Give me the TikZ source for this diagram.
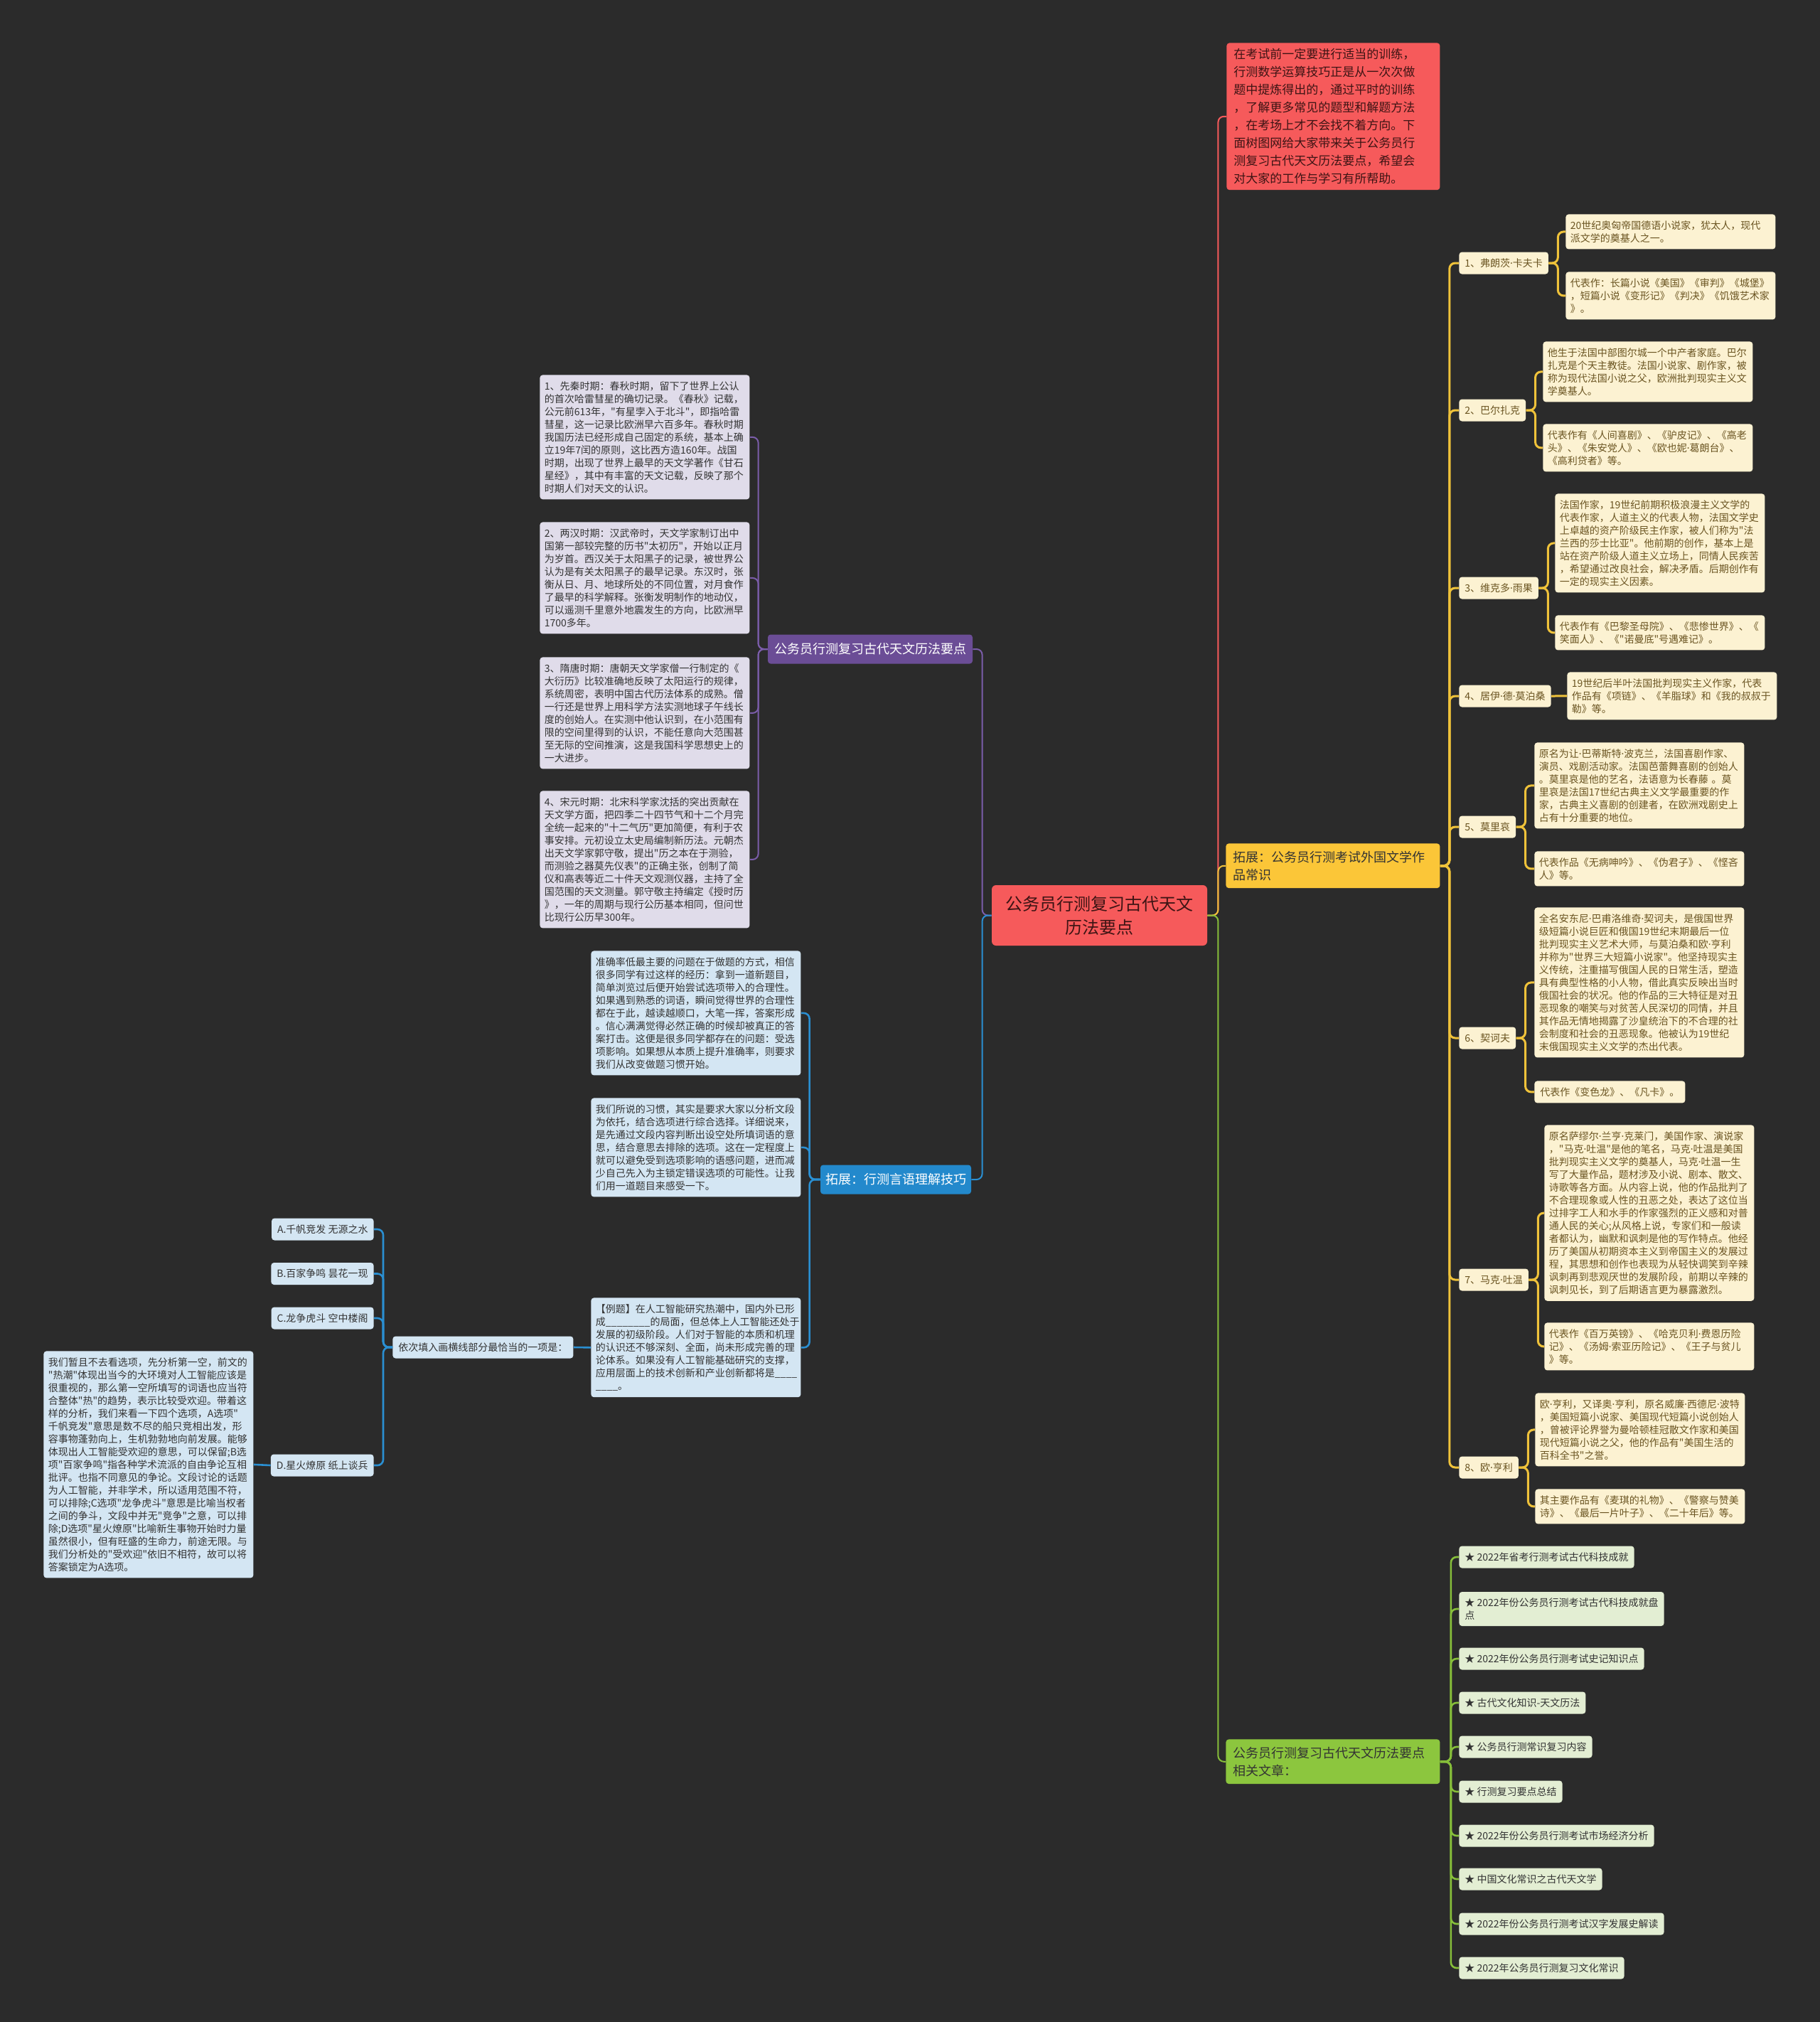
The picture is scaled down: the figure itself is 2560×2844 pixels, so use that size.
\documentclass[tikz,border=0pt]{standalone}
\usepackage{fontspec}
\newfontfamily\cjk{Noto Sans CJK SC}
\newfontfamily\latinf{Noto Sans}
\newcommand{\md}{{\latinf\symbol{"00B7}}}
\usetikzlibrary{positioning}
\definecolor{bgc}{HTML}{2B2B2B}
\definecolor{redc}{HTML}{F65A5B}
\definecolor{redtxt}{HTML}{3D1414}
\definecolor{purplec}{HTML}{6B4D96}
\definecolor{purplelt}{HTML}{E0DCEA}
\definecolor{purpleln}{HTML}{7B5DAA}
\definecolor{bluec}{HTML}{2389CC}
\definecolor{bluelt}{HTML}{D4E6F3}
\definecolor{blueln}{HTML}{2A8FD2}
\definecolor{yellowc}{HTML}{FBC638}
\definecolor{creamc}{HTML}{FCF2D2}
\definecolor{creamtxt}{HTML}{6A5421}
\definecolor{yellowln}{HTML}{EFC23A}
\definecolor{greenc}{HTML}{8CC63E}
\definecolor{greenlt}{HTML}{E3EED3}
\definecolor{greenln}{HTML}{86BE3A}
\definecolor{txt}{HTML}{333333}

\begin{document}
\begin{tikzpicture}[x=0.5pt, y=-0.5pt,
  rootnode/.style={rectangle, fill=redc, text=redtxt, rounded corners=3pt, align=center, minimum width=151.5pt, minimum height=42.5pt, font=\cjk\fontsize{12}{16.5}\selectfont},
  introbox/.style={rectangle, fill=redc, text=redtxt, rounded corners=2pt, align=left, text width=140pt, inner xsep=5pt, inner ysep=4pt, anchor=north west, font=\cjk\fontsize{8.5}{12.5}\selectfont},
  mainbox/.style={rectangle, rounded corners=2pt, align=center, minimum height=20.5pt, font=\cjk\fontsize{9}{12.5}\selectfont},
  widebox/.style={rectangle, rounded corners=2pt, align=left, text width=140pt, inner xsep=5.25pt, inner ysep=5.25pt, anchor=north west, font=\cjk\fontsize{9}{12.5}\selectfont},
  item/.style={rectangle, rounded corners=2pt, align=left, text width=141pt, inner xsep=3.25pt, inner ysep=4.5pt, anchor=north west, font=\cjk\fontsize{7}{9}\selectfont},
  tag/.style={rectangle, rounded corners=2pt, align=left, inner xsep=4pt, inner ysep=4.25pt, minimum height=15.5pt, font=\cjk\fontsize{7}{9}\selectfont},
  purpleitem/.style={item, fill=purplelt, text=txt},
  blueitem/.style={item, fill=bluelt, text=txt},
  bluetag/.style={tag, fill=bluelt, text=txt},
  creamitem/.style={item, fill=creamc, text=creamtxt},
  creamtag/.style={tag, fill=creamc, text=creamtxt, anchor=west},
  greentag/.style={tag, fill=greenlt, text=txt, anchor=west},
  link/.style={rounded corners=4pt},
  redline/.style={link, draw=redc, line width=1pt},
  purpleline/.style={link, draw=purpleln, line width=1pt},
  blueline/.style={link, draw=blueln, line width=1.3pt},
  yellowline/.style={link, draw=yellowln, line width=1.5pt},
  greenline/.style={link, draw=greenln, line width=1.3pt}]

\fill[bgc] (0,0) rectangle (2560,2844);

\node[rootnode] (root) at (1546.5,1287.5) {公务员行测复习古代天文\\历法要点};

\node[introbox] (intro) at (1725,60) {在考试前一定要进行适当的训练，\\行测数学运算技巧正是从一次次做\\题中提炼得出的，通过平时的训练\\，了解更多常见的题型和解题方法\\，在考场上才不会找不着方向。下\\面树图网给大家带来关于公务员行\\测复习古代天文历法要点，希望会\\对大家的工作与学习有所帮助。};

\node[mainbox, fill=purplec, text=white, minimum width=144pt] (purp) at (1224,913) {公务员行测复习古代天文历法要点};
\node[mainbox, fill=bluec, text=white, minimum width=106pt] (blu) at (1260,1659) {拓展：行测言语理解技巧};
\node[widebox, fill=yellowc, text=txt] (yel) at (1724,1186) {拓展：公务员行测考试外国文学作\\品常识};
\node[widebox, fill=greenc, text=txt] (grn) at (1724,2446) {公务员行测复习古代天文历法要点\\相关文章：};

\node[purpleitem] (p1) at (759,527) {1、先秦时期：春秋时期，留下了世界上公认\\的首次哈雷彗星的确切记录。《春秋》记载，\\公元前613年，"有星孛入于北斗"，即指哈雷\\彗星，这一记录比欧洲早六百多年。春秋时期\\我国历法已经形成自己固定的系统，基本上确\\立19年7闰的原则，这比西方造160年。战国\\时期，出现了世界上最早的天文学著作《甘石\\星经》，其中有丰富的天文记载，反映了那个\\时期人们对天文的认识。};
\node[purpleitem] (p2) at (759,734) {2、两汉时期：汉武帝时，天文学家制订出中\\国第一部较完整的历书"太初历"，开始以正月\\为岁首。西汉关于太阳黑子的记录，被世界公\\认为是有关太阳黑子的最早记录。东汉时，张\\衡从日、月、地球所处的不同位置，对月食作\\了最早的科学解释。张衡发明制作的地动仪，\\可以遥测千里意外地震发生的方向，比欧洲早\\1700多年。};
\node[purpleitem] (p3) at (759,924) {3、隋唐时期：唐朝天文学家僧一行制定的《\\大衍历》比较准确地反映了太阳运行的规律，\\系统周密，表明中国古代历法体系的成熟。僧\\一行还是世界上用科学方法实测地球子午线长\\度的创始人。在实测中他认识到，在小范围有\\限的空间里得到的认识，不能任意向大范围甚\\至无际的空间推演，这是我国科学思想史上的\\一大进步。};
\node[purpleitem] (p4) at (759,1112) {4、宋元时期：北宋科学家沈括的突出贡献在\\天文学方面，把四季二十四节气和十二个月完\\全统一起来的"十二气历"更加简便，有利于农\\事安排。元初设立太史局编制新历法。元朝杰\\出天文学家郭守敬，提出"历之本在于测验，\\而测验之器莫先仪表"的正确主张，创制了简\\仪和高表等近二十件天文观测仪器，主持了全\\国范围的天文测量。郭守敬主持编定《授时历\\》，一年的周期与现行公历基本相同，但问世\\比现行公历早300年。};

\node[blueitem] (b1) at (831,1337) {准确率低最主要的问题在于做题的方式，相信\\很多同学有过这样的经历：拿到一道新题目，\\简单浏览过后便开始尝试选项带入的合理性。\\如果遇到熟悉的词语，瞬间觉得世界的合理性\\都在于此，越读越顺口，大笔一挥，答案形成\\。信心满满觉得必然正确的时候却被真正的答\\案打击。这便是很多同学都存在的问题：受选\\项影响。如果想从本质上提升准确率，则要求\\我们从改变做题习惯开始。};
\node[blueitem] (b2) at (831,1544) {我们所说的习惯，其实是要求大家以分析文段\\为依托，结合选项进行综合选择。详细说来，\\是先通过文段内容判断出设空处所填词语的意\\思，结合意思去排除的选项。这在一定程度上\\就可以避免受到选项影响的语感问题，进而减\\少自己先入为主锁定错误选项的可能性。让我\\们用一道题目来感受一下。};
\node[blueitem] (b3) at (831,1825) {【例题】在人工智能研究热潮中，国内外已形\\成\_\_\_\_\_\_\_\_的局面，但总体上人工智能还处于\\发展的初级阶段。人们对于智能的本质和机理\\的认识还不够深刻、全面，尚未形成完善的理\\论体系。如果没有人工智能基础研究的支撑，\\应用层面上的技术创新和产业创新都将是\_\_\_\_\\\_\_\_\_。};

\node[bluetag, anchor=west] (q) at (552,1895) {依次填入画横线部分最恰当的一项是：};
\node[bluetag, anchor=east] (oa) at (526,1729) {A.千帆竞发 无源之水};
\node[bluetag, anchor=east] (ob) at (526,1791.5) {B.百家争鸣 昙花一现};
\node[bluetag, anchor=east] (oc) at (526,1854) {C.龙争虎斗 空中楼阁};
\node[bluetag, anchor=east] (od) at (526,2061) {D.星火燎原 纸上谈兵};
\node[blueitem] (expl) at (61,1900) {我们暂且不去看选项，先分析第一空，前文的\\"热潮"体现出当今的大环境对人工智能应该是\\很重视的，那么第一空所填写的词语也应当符\\合整体"热"的趋势，表示比较受欢迎。带着这\\样的分析，我们来看一下四个选项，A选项"\\千帆竞发"意思是数不尽的船只竞相出发，形\\容事物蓬勃向上，生机勃勃地向前发展。能够\\体现出人工智能受欢迎的意思，可以保留;B选\\项"百家争鸣"指各种学术流派的自由争论互相\\批评。也指不同意见的争论。文段讨论的话题\\为人工智能，并非学术，所以适用范围不符，\\可以排除;C选项"龙争虎斗"意思是比喻当权者\\之间的争斗，文段中并无"竞争"之意，可以排\\除;D选项"星火燎原"比喻新生事物开始时力量\\虽然很小，但有旺盛的生命力，前途无限。与\\我们分析处的"受欢迎"依旧不相符，故可以将\\答案锁定为A选项。};

\node[creamtag] (a1) at (2052,370) {1、弗朗茨\md 卡夫卡};
\node[creamitem] (a1x) at (2202,301) {20世纪奥匈帝国德语小说家，犹太人，现代\\派文学的奠基人之一。};
\node[creamitem] (a1y) at (2202,382) {代表作：长篇小说《美国》《审判》《城堡》\\，短篇小说《变形记》《判决》《饥饿艺术家\\》。};
\node[creamtag] (a2) at (2052,577) {2、巴尔扎克};
\node[creamitem] (a2x) at (2170,480) {他生于法国中部图尔城一个中产者家庭。巴尔\\扎克是个天主教徒。法国小说家、剧作家，被\\称为现代法国小说之父，欧洲批判现实主义文\\学奠基人。};
\node[creamitem] (a2y) at (2170,596) {代表作有《人间喜剧》、《驴皮记》、《高老\\头》、《朱安党人》、《欧也妮\md 葛朗台》、\\《高利贷者》等。};
\node[creamtag] (a3) at (2052,827) {3、维克多\md 雨果};
\node[creamitem] (a3x) at (2187,694) {法国作家，19世纪前期积极浪漫主义文学的\\代表作家，人道主义的代表人物，法国文学史\\上卓越的资产阶级民主作家，被人们称为"法\\兰西的莎士比亚"。他前期的创作，基本上是\\站在资产阶级人道主义立场上，同情人民疾苦\\，希望通过改良社会，解决矛盾。后期创作有\\一定的现实主义因素。};
\node[creamitem] (a3y) at (2187,865) {代表作有《巴黎圣母院》、《悲惨世界》、《\\笑面人》、《"诺曼底"号遇难记》。};
\node[creamtag] (a4) at (2052,979) {4、居伊\md 德\md 莫泊桑};
\node[creamitem] (a4x) at (2204,945) {19世纪后半叶法国批判现实主义作家，代表\\作品有《项链》、《羊脂球》和《我的叔叔于\\勒》等。};
\node[creamtag] (a5) at (2052,1163) {5、莫里哀};
\node[creamitem] (a5x) at (2158,1044) {原名为让\md 巴蒂斯特\md 波克兰，法国喜剧作家、\\演员、戏剧活动家。法国芭蕾舞喜剧的创始人\\。莫里哀是他的艺名，法语意为长春藤 。莫\\里哀是法国17世纪古典主义文学最重要的作\\家，古典主义喜剧的创建者，在欧洲戏剧史上\\占有十分重要的地位。};
\node[creamitem] (a5y) at (2158,1197) {代表作品《无病呻吟》、《伪君子》、《悭吝\\人》等。};
\node[creamtag] (a6) at (2052,1460) {6、契诃夫};
\node[creamitem] (a6x) at (2158,1276) {全名安东尼\md 巴甫洛维奇\md 契诃夫，是俄国世界\\级短篇小说巨匠和俄国19世纪末期最后一位\\批判现实主义艺术大师，与莫泊桑和欧\md 亨利\\并称为"世界三大短篇小说家"。他坚持现实主\\义传统，注重描写俄国人民的日常生活，塑造\\具有典型性格的小人物，借此真实反映出当时\\俄国社会的状况。他的作品的三大特征是对丑\\恶现象的嘲笑与对贫苦人民深切的同情，并且\\其作品无情地揭露了沙皇统治下的不合理的社\\会制度和社会的丑恶现象。他被认为19世纪\\末俄国现实主义文学的杰出代表。};
\node[creamtag, anchor=north west] (a6y) at (2158,1520) {代表作《变色龙》、《凡卡》。};
\node[creamtag] (a7) at (2052,1800) {7、马克\md 吐温};
\node[creamitem] (a7x) at (2172,1582) {原名萨缪尔\md 兰亨\md 克莱门，美国作家、演说家\\，"马克\md 吐温"是他的笔名，马克\md 吐温是美国\\批判现实主义文学的奠基人，马克\md 吐温一生\\写了大量作品，题材涉及小说、剧本、散文、\\诗歌等各方面。从内容上说，他的作品批判了\\不合理现象或人性的丑恶之处，表达了这位当\\过排字工人和水手的作家强烈的正义感和对普\\通人民的关心;从风格上说，专家们和一般读\\者都认为，幽默和讽刺是他的写作特点。他经\\历了美国从初期资本主义到帝国主义的发展过\\程，其思想和创作也表现为从轻快调笑到辛辣\\讽刺再到悲观厌世的发展阶段，前期以辛辣的\\讽刺见长，到了后期语言更为暴露激烈。};
\node[creamitem] (a7y) at (2172,1860) {代表作《百万英镑》、《哈克贝利\md 费恩历险\\记》、《汤姆\md 索亚历险记》、《王子与贫儿\\》等。};
\node[creamtag] (a8) at (2052,2064) {8、欧\md 亨利};
\node[creamitem] (a8x) at (2159,1959) {欧\md 亨利，又译奥\md 亨利，原名威廉\md 西德尼\md 波特\\，美国短篇小说家、美国现代短篇小说创始人\\，曾被评论界誉为曼哈顿桂冠散文作家和美国\\现代短篇小说之父，他的作品有"美国生活的\\百科全书"之誉。};
\node[creamitem] (a8y) at (2159,2094) {其主要作品有《麦琪的礼物》、《警察与赞美\\诗》、《最后一片叶子》、《二十年后》等。};

\node[greentag] (g1) at (2052,2190) {★ 2022年省考行测考试古代科技成就};
\node[greentag] (g2) at (2052,2263) {★ 2022年份公务员行测考试古代科技成就盘\\点};
\node[greentag] (g3) at (2052,2333) {★ 2022年份公务员行测考试史记知识点};
\node[greentag] (g4) at (2052,2395) {★ 古代文化知识-天文历法};
\node[greentag] (g5) at (2052,2457) {★ 公务员行测常识复习内容};
\node[greentag] (g6) at (2052,2520) {★ 行测复习要点总结};
\node[greentag] (g7) at (2052,2582) {★ 2022年份公务员行测考试市场经济分析};
\node[greentag] (g8) at (2052,2643) {★ 中国文化常识之古代天文学};
\node[greentag] (g9) at (2052,2706) {★ 2022年份公务员行测考试汉字发展史解读};
\node[greentag] (g10) at (2052,2768) {★ 2022年公务员行测复习文化常识};

\draw[redline] (root.east) -- ++(15,0) |- (intro.west);
\draw[yellowline, line width=1pt] (root.east) -- ++(15,0) |- (yel.west);
\draw[greenline, line width=1pt] (root.east) -- ++(15,0) |- (grn.west);
\draw[purpleline] (root.west) -- ++(-13,0) |- (purp.east);
\draw[blueline, line width=1pt] (root.west) -- ++(-13,0) |- (blu.east);

\draw[purpleline] (purp.west) -- ++(-13,0) |- (p1.east);
\draw[purpleline] (purp.west) -- ++(-13,0) |- (p2.east);
\draw[purpleline] (purp.west) -- ++(-13,0) |- (p3.east);
\draw[purpleline] (purp.west) -- ++(-13,0) |- (p4.east);

\draw[blueline] (blu.west) -- ++(-15,0) |- (b1.east);
\draw[blueline] (blu.west) -- ++(-15,0) |- (b2.east);
\draw[blueline] (blu.west) -- ++(-15,0) |- (b3.east);
\draw[blueline] (b3.west) -- (q.east);
\draw[blueline] (q.west) -- ++(-13,0) |- (oa.east);
\draw[blueline] (q.west) -- ++(-13,0) |- (ob.east);
\draw[blueline] (q.west) -- ++(-13,0) |- (oc.east);
\draw[blueline] (q.west) -- ++(-13,0) |- (od.east);
\draw[blueline] (od.west) -- (expl.east);

\draw[yellowline] (yel.east) -- ++(13,0) |- (a1.west);
\draw[yellowline] (yel.east) -- ++(13,0) |- (a2.west);
\draw[yellowline] (yel.east) -- ++(13,0) |- (a3.west);
\draw[yellowline] (yel.east) -- ++(13,0) |- (a4.west);
\draw[yellowline] (yel.east) -- ++(13,0) |- (a5.west);
\draw[yellowline] (yel.east) -- ++(13,0) |- (a6.west);
\draw[yellowline] (yel.east) -- ++(13,0) |- (a7.west);
\draw[yellowline] (yel.east) -- ++(13,0) |- (a8.west);
\draw[yellowline] (a1.east) -- ++(13,0) |- (a1x.west);
\draw[yellowline] (a1.east) -- ++(13,0) |- (a1y.west);
\draw[yellowline] (a2.east) -- ++(13,0) |- (a2x.west);
\draw[yellowline] (a2.east) -- ++(13,0) |- (a2y.west);
\draw[yellowline] (a3.east) -- ++(13,0) |- (a3x.west);
\draw[yellowline] (a3.east) -- ++(13,0) |- (a3y.west);
\draw[yellowline] (a4.east) -- (a4x.west);
\draw[yellowline] (a5.east) -- ++(13,0) |- (a5x.west);
\draw[yellowline] (a5.east) -- ++(13,0) |- (a5y.west);
\draw[yellowline] (a6.east) -- ++(13,0) |- (a6x.west);
\draw[yellowline] (a6.east) -- ++(13,0) |- (a6y.west);
\draw[yellowline] (a7.east) -- ++(13,0) |- (a7x.west);
\draw[yellowline] (a7.east) -- ++(13,0) |- (a7y.west);
\draw[yellowline] (a8.east) -- ++(13,0) |- (a8x.west);
\draw[yellowline] (a8.east) -- ++(13,0) |- (a8y.west);

\draw[greenline] (grn.east) -- ++(15,0) |- (g1.west);
\draw[greenline] (grn.east) -- ++(15,0) |- (g2.west);
\draw[greenline] (grn.east) -- ++(15,0) |- (g3.west);
\draw[greenline] (grn.east) -- ++(15,0) |- (g4.west);
\draw[greenline] (grn.east) -- ++(15,0) |- (g5.west);
\draw[greenline] (grn.east) -- ++(15,0) |- (g6.west);
\draw[greenline] (grn.east) -- ++(15,0) |- (g7.west);
\draw[greenline] (grn.east) -- ++(15,0) |- (g8.west);
\draw[greenline] (grn.east) -- ++(15,0) |- (g9.west);
\draw[greenline] (grn.east) -- ++(15,0) |- (g10.west);

\end{tikzpicture}
\end{document}
